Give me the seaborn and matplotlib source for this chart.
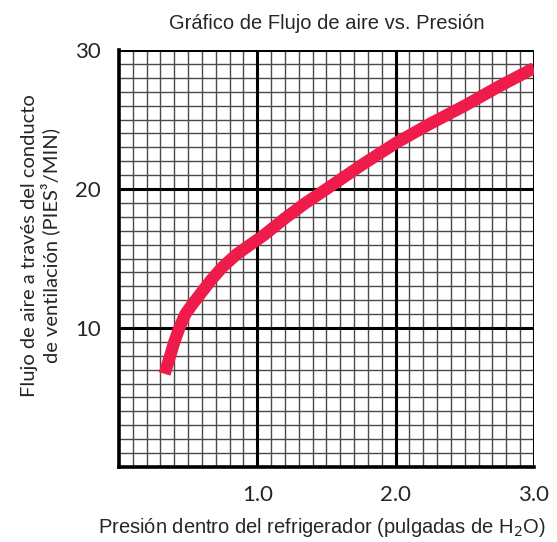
import matplotlib
matplotlib.use("Agg")
import matplotlib.pyplot as plt
import numpy as np
import pandas as pd
import seaborn as sns

# Air flow through the ventilation duct vs. pressure inside the refrigerator
presion = [0.33, 0.37, 0.40, 0.44, 0.48, 0.53, 0.60, 0.67, 0.75, 0.85,
           0.95, 1.05, 1.20, 1.35, 1.50, 1.75, 2.00, 2.25, 2.50, 2.75, 3.00]
flujo = [6.7, 8.0, 9.0, 10.1, 11.0, 11.7, 12.6, 13.5, 14.4, 15.3,
         16.0, 16.7, 17.9, 19.0, 20.0, 21.7, 23.3, 24.7, 26.0, 27.4, 28.7]

x_ticks = [0, 1, 2, 3]
x_labels = ["", "1.0", "2.0", "3.0"]
y_ticks = [0, 10, 20, 30]
y_labels = ["", "10", "20", "30"]

df = pd.DataFrame({"presion": presion, "flujo": flujo})

sns.set_style("white")
plt.rcParams["font.family"] = ["Liberation Sans", "DejaVu Sans"]

fig = plt.figure(figsize=(5.57, 5.42), dpi=100)
ax = fig.add_axes([0.2136, 0.1384, 0.7451, 0.7693])

# graph-paper grid: fine lines every 0.1 / 1, heavy lines every 1.0 / 10
for xv in np.arange(0.1, 3.0, 0.1):
    ax.axvline(xv, color="#4a4a4a", lw=1.0, zorder=1)
for yv in np.arange(1, 30, 1):
    ax.axhline(yv, color="#4a4a4a", lw=1.0, zorder=1)
for xv in [1, 2, 3]:
    ax.axvline(xv, color="black", lw=2.2, zorder=2)
for yv in [10, 20, 30]:
    ax.axhline(yv, color="black", lw=2.2, zorder=2)

sns.lineplot(data=df, x="presion", y="flujo", ax=ax, color="#EE1B4B",
             lw=8.8, solid_capstyle="butt", solid_joinstyle="round", zorder=5)

ax.set_xlim(0, 3.0)
ax.set_ylim(0, 30)
ax.set_xticks(x_ticks)
ax.set_xticklabels(x_labels)
ax.set_yticks(y_ticks)
ax.set_yticklabels(y_labels)
ax.tick_params(axis="both", direction="out", length=9, width=2.2,
               color="black", labelsize=16, pad=4)
for lab in ax.get_xticklabels() + ax.get_yticklabels():
    lab.set_family(["Lato", "DejaVu Sans"])

for side in ["top", "right"]:
    ax.spines[side].set_visible(False)
for side in ["left", "bottom"]:
    ax.spines[side].set_color("black")
    ax.spines[side].set_linewidth(2.6)

ax.set_title("Gráfico de Flujo de aire vs. Presión", fontsize=14.5, pad=15)
ax.set_xlabel("Presión dentro del refrigerador (pulgadas de H$_2$O)", fontsize=14.5)
ax.xaxis.set_label_coords(0.49, -0.118)
ax.set_ylabel("Flujo de aire a través del conducto\nde ventilación (PIES³/MIN)",
              fontsize=14.5, family=["Lato", "DejaVu Sans"], linespacing=1.15)
ax.yaxis.set_label_coords(-0.142, 0.53)

fig.savefig("out.png", dpi=100)
